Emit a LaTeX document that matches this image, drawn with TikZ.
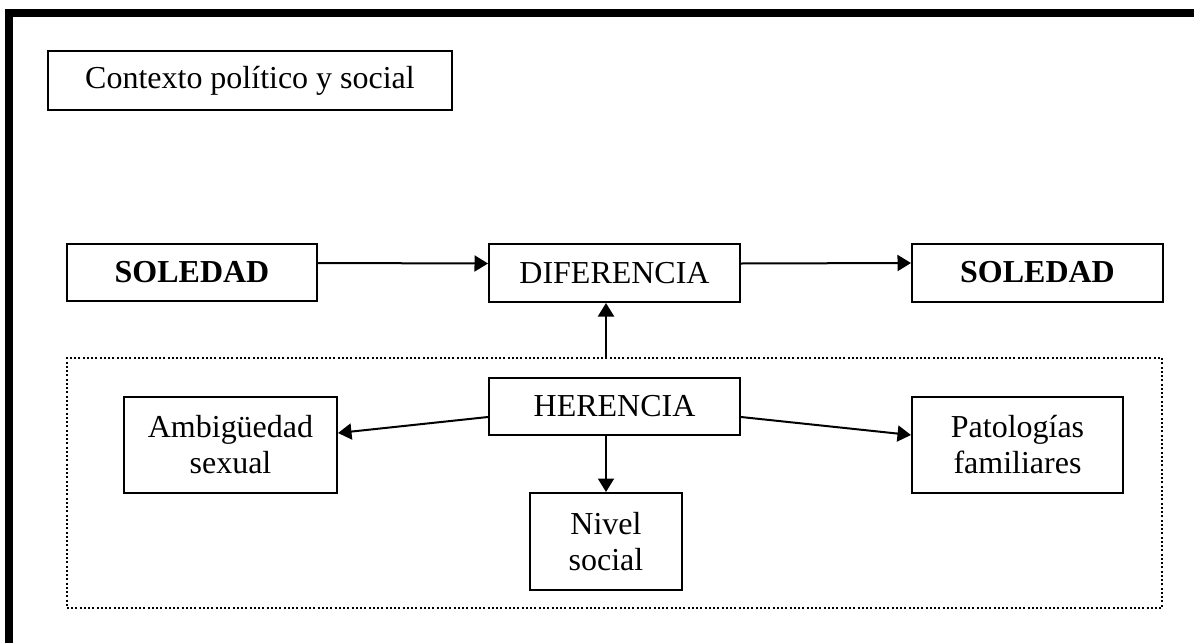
\documentclass[tikz,border=0pt]{standalone}
\usepackage{fontspec}
\setmainfont{Liberation Serif}
\usepackage{tikz}
\usetikzlibrary{positioning,arrows.meta}
\tikzstyle{caja} = [draw, line width=0.4mm, align=center, inner sep=0pt]
\tikzstyle{flecha} = [line width=0.4mm, -{Triangle[length=2.7mm,width=3.2mm]}]
\tikzstyle{grupo} = [draw, line width=0.4mm, dash pattern=on 0.4mm off 0.45mm, inner sep=0pt]

\begin{document}
\begin{tikzpicture}[x=0.2mm, y=-0.2mm, font=\fontsize{18.2}{20.5}\selectfont]
			\useasboundingbox (0,0) rectangle (1194,643);
			\draw[line width=1.6mm] (9,643) -- (9,13) -- (1194,13);
			\node[caja, minimum width=80.8mm, minimum height=11.8mm] (ctx) at (250,80.5) {Contexto político y social};
			\node[caja, minimum width=50mm, minimum height=11.4mm] (sol1) at (192,272.5) {\textbf{SOLEDAD}};
			\node[caja, minimum width=50.2mm, minimum height=11.6mm] (dif) at (614.5,273) {DIFERENCIA};
			\node[caja, minimum width=50.2mm, minimum height=11.6mm] (sol2) at (1037.5,272.5) {\textbf{SOLEDAD}};
			\node[grupo, minimum width=219mm, minimum height=50mm] (her-grupo) at (614.5,483) {};
			\node[caja, minimum width=50.2mm, minimum height=11.4mm] (her) at (614.5,406.5) {HERENCIA};
			\node[caja, minimum width=42.6mm, minimum height=19.2mm] (amb) at (230.5,445) {Ambigüedad\\sexual};
			\node[caja, minimum width=30.4mm, minimum height=19.4mm] (niv) at (606,541.5) {Nivel\\social};
			\node[caja, minimum width=42.2mm, minimum height=19.2mm] (pat) at (1017.5,445) {Patologías\\familiares};
			\draw[flecha] ([yshift=1.9mm]sol1.east) -- ([yshift=1.9mm]dif.west);
			\draw[flecha] ([yshift=1.9mm]dif.east) -- ([yshift=1.9mm]sol2.west);
			\draw[flecha] (her-grupo.north -| niv.north) -- (dif.south -| niv.north);
			\draw[flecha] (her.south -| niv.north) -- (niv.north);
			\draw[flecha] ([yshift=-2.1mm]her.west) -- ([yshift=2.4mm]amb.east);
			\draw[flecha] ([yshift=-2.1mm]her.east) -- ([yshift=2mm]pat.west);
		\end{tikzpicture}
\end{document}
